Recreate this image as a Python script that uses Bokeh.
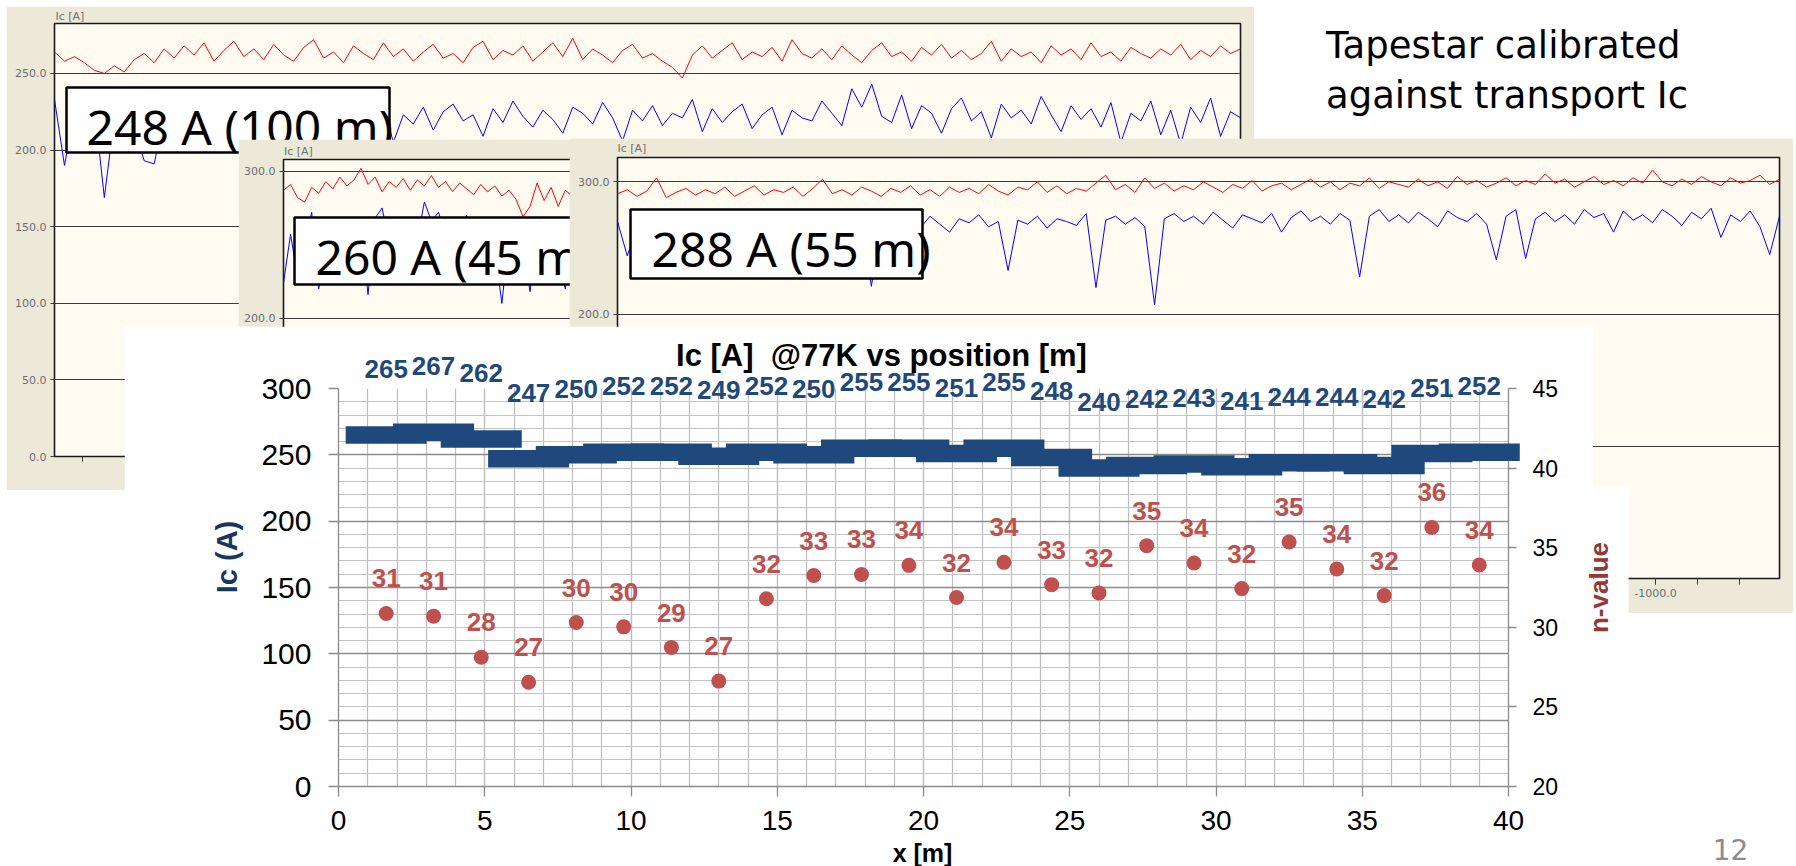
import math
from bokeh.plotting import figure
from bokeh.models import (Range1d, LinearAxis, SingleIntervalTicker, FixedTicker, LabelSet,
                          ColumnDataSource, Label, BoxAnnotation, NumeralTickFormatter)
from bokeh.embed import file_html
from bokeh.resources import INLINE
from bokeh.core.properties import value

# ---------------- main chart data ----------------
position_m = [1.63, 3.25, 4.88, 6.5, 8.13, 9.75, 11.38, 13.0, 14.63, 16.25, 17.88, 19.5,
              21.13, 22.75, 24.38, 26.0, 27.63, 29.25, 30.88, 32.5, 34.13, 35.75, 37.38, 39.0]
ic_a = [265, 267, 262, 247, 250, 252, 252, 249, 252, 250, 255, 255,
        251, 255, 248, 240, 242, 243, 241, 244, 244, 242, 251, 252]
n_value = [30.87, 30.70, 28.12, 26.55, 30.30, 30.03, 28.73, 26.62, 31.79, 33.25, 33.32, 33.89,
           31.87, 34.08, 32.68, 32.16, 35.13, 34.04, 32.43, 35.36, 33.66, 31.99, 36.27, 33.91]
n_label = [31, 31, 28, 27, 30, 30, 29, 27, 32, 33, 33, 34,
           32, 34, 33, 32, 35, 34, 32, 35, 34, 32, 36, 34]

# ---------------- background screenshot traces (Ic [A]) ----------------
red_a = [264,258,261,257,252,250,255,251,259,263, 257,266,260,268,262,270,258,265,271,261,
         266,259,269,262,258,267,272,260,264,257, 268,263,259,270,261,266,258,264,269,260,
         263,257,267,271,259,265,262,268,258,264, 270,261,273,259,266,262,257,265,269,260,
         263,258,254,247,262,268,260,265,270,259, 264,261,267,258,272,263,260,266,259,268,
         262,257,265,270,261,264,258,267,262,269, 260,265,259,263,271,258,266,261,264,257,
         268,262,266,259,270,261,264,258,267,263, 260,266,262,269,259,265,261,268,263,266]
blue_a = [233,190,224,218,229,169,221,226,215,193, 191,222,230,217,225,212,228,219,224,208,
          226,231,215,222,227,210,224,218,233,221, 214,226,220,229,205,223,217,228,213,225,
          230,219,223,209,227,218,232,222,215,226, 220,211,228,224,217,231,221,206,226,219,
          229,216,224,221,233,212,227,218,225,230, 214,223,228,210,226,221,219,232,224,216,
          240,228,243,222,218,236,214,229,224,211, 227,234,219,225,208,230,221,226,217,235,
          223,212,229,220,227,215,231,205,224,219, 232,210,226,204,228,218,234,209,225,221]
red_b = [287,291,282,279,289,285,293,288,296,290, 294,302,291,296,286,293,289,295,287,294,
         290,297,289,293,286,292,288,284,291,286, 290,283,287,281,269,276,292,280,289,276,
         287,283,291,286,290,285]
blue_b = [224,257,228,250,272,220,255,266,249,258, 244,262,216,268,275,251,259,246,263,254,
          279,266,272,258,249,261,270,252,264,268, 247,210,256,262,249,218,258,245,263,240,
          220,255,261,248,257,252]
red_c = [291,294,289,293,303,288,292,295,290,294, 291,296,289,293,297,290,294,292,296,289,
         295,302,291,294,290,296,293,289,295,292, 297,290,294,289,296,292,295,291,298,293,
         290,296,294,300,292,297,291,295,293,299, 305,294,298,292,303,295,299,293,297,294,
         300,296,292,298,295,301,293,297,299,294, 298,302,296,300,294,299,297,303,295,300,
         298,296,302,297,300,295,304,298,301,296, 299,303,297,301,298,306,299,302,296,300,
         304,298,301,297,303,299,309,300,297,302, 298,304,300,297,303,299,301,305,298,302]
blue_c = [270,244,266,272,268,275,263,270,266,273, 269,264,271,267,274,262,269,272,265,270,
          268,273,266,271,264,269,221,270,273,267, 271,265,274,268,262,272,269,275,266,270,
          233,271,268,274,265,272,270,267,276,220, 271,274,268,273,266,207,272,276,270,274,
          268,277,271,265,275,272,269,276,262,273, 278,270,274,268,276,271,228,274,279,270,
          275,269,277,272,266,278,273,270,276,268, 241,274,279,242,272,277,270,275,268,279,
          273,276,262,278,271,275,269,279,274,267, 277,272,280,258,275,270,278,266,245,274]
panel_a_ticks = [0, 50, 100, 150, 200, 250]
panel_b_ticks = [200, 300]
panel_c_ticks = [0, 100, 200, 300]

# ---------------- styles ----------------
BEIGE = "#ECE9D8"
CREAM = "#FFFBF0"
BLUE = "#1F497D"
RED = "#C0504D"
NRED = "#953735"
W, H = 1796, 866
BOX_FONT_SHIFT = 18.6   # baseline -> middle for 48px Noto Sans


def lin(v, a0, a1, b0, b1):
    return b0 + (v - a0) * (b1 - b0) / (a1 - a0)


def make_panel(c, f, x_range, y_range, yticks):
    cx0, cy0, cx1, cy1 = c
    fx0, fy0, fx1, fy1 = f
    p = figure(width=cx1 - cx0, height=cy1 - cy0, x_range=x_range, y_range=y_range,
               output_backend="svg", toolbar_location=None,
               min_border_left=fx0 - cx0, min_border_right=cx1 - fx1,
               min_border_top=fy0 - cy0, min_border_bottom=cy1 - fy1)
    p.background_fill_color = CREAM
    p.border_fill_color = BEIGE
    p.outline_line_color = "#1A1A1A"
    p.outline_line_width = 1.6
    p.xgrid.visible = False
    p.ygrid.grid_line_color = "#3A3A3A"
    p.ygrid.grid_line_width = 1.2
    ya = p.yaxis[0]
    ya.ticker = FixedTicker(ticks=yticks)
    ya.formatter = NumeralTickFormatter(format="0.0")
    ya.axis_line_color = None
    ya.major_tick_line_color = "#3A3A3A"
    ya.major_tick_out = 4
    ya.major_tick_in = 0
    ya.minor_tick_line_color = None
    ya.major_label_text_font = "DejaVu Sans"
    ya.major_label_text_font_size = "11px"
    ya.major_label_text_color = "#6E6E6E"
    ya.major_label_standoff = 4
    return p


def text_box(p, box, text_xy, text, fxr, fyr, xname="default"):
    (bx0, by0, bx1, by1) = box
    p.add_layout(BoxAnnotation(left=fxr(bx0), right=fxr(bx1), top=fyr(by0), bottom=fyr(by1),
                               fill_color="white", fill_alpha=1.0, line_color="black",
                               line_alpha=1.0, line_width=2.5, x_range_name=xname))
    p.add_layout(Label(x=fxr(text_xy[0]), y=fyr(text_xy[1] - BOX_FONT_SHIFT), text=text,
                       x_range_name=xname, text_font="Noto Sans", text_font_size="48px",
                       text_color="black", text_align="left", text_baseline="middle"))


# ---------------- panel A (back window) ----------------
A_c = (6, 6, 1254, 490)
A_f = (54, 23, 1240, 456)
A_ytop = 282.6
pA = make_panel(A_c, A_f, Range1d(0, len(red_a) - 1), Range1d(0, A_ytop), panel_a_ticks)
pA.xaxis.axis_line_color = None
pA.xaxis.ticker = FixedTicker(ticks=[2.81])
pA.xaxis.major_tick_out = 5
pA.xaxis.major_tick_in = 0
pA.xaxis.major_tick_line_color = "#3A3A3A"
pA.xaxis.major_label_text_color = None
pA.xaxis.minor_tick_line_color = None
pA.line(list(range(len(red_a))), red_a, line_color="#FF0000", line_width=1)
pA.line(list(range(len(blue_a))), blue_a, line_color="#0000FF", line_width=1)
fxa = lambda px: lin(px, A_f[0], A_f[2], 0, len(red_a) - 1)
fya = lambda py: lin(py, A_f[3], A_f[1], 0, A_ytop)
text_box(pA, (66, 87, 389, 152), (86, 145), "248 A (100 m)", fxa, fya)

# ---------------- panel B (middle window) ----------------
B_c = (238, 139, 600, 340)
B_f = (283, 159, 600, 335)
B_y0, B_y1 = 188.2, 307.96
pB = make_panel(B_c, B_f, Range1d(0, len(red_b) - 1), Range1d(B_y0, B_y1), panel_b_ticks)
pB.xaxis.visible = False
pB.line(list(range(len(red_b))), red_b, line_color="#FF0000", line_width=1)
pB.line(list(range(len(blue_b))), blue_b, line_color="#0000FF", line_width=1)
fxb = lambda px: lin(px, B_f[0], B_f[2], 0, len(red_b) - 1)
fyb = lambda py: lin(py, B_f[3], B_f[1], B_y0, B_y1)
text_box(pB, (294, 217, 598, 284), (315, 275), "260 A (45 m)", fxb, fyb)

# ---------------- panel C (right window) ----------------
C_c = (569, 138, 1793, 613)
C_f = (617, 157, 1779, 578)
C_ytop = 318.4
pC = make_panel(C_c, C_f, Range1d(-9238.5, -16.3), Range1d(0, C_ytop), panel_c_ticks)
pC.extra_x_ranges = {"idx": Range1d(0, len(red_c) - 1)}
cx = pC.xaxis[0]
cx.ticker = SingleIntervalTicker(interval=1000, num_minor_ticks=3)
cx.formatter = NumeralTickFormatter(format="0.0")
cx.axis_line_color = None
cx.major_tick_line_color = "#3A3A3A"
cx.minor_tick_line_color = "#3A3A3A"
cx.major_tick_out = 6
cx.minor_tick_out = 6
cx.major_tick_in = 0
cx.minor_tick_in = 0
cx.major_label_text_font = "DejaVu Sans"
cx.major_label_text_font_size = "11px"
cx.major_label_text_color = "#6E6E6E"
cx.major_label_standoff = 4
pC.line(list(range(len(red_c))), red_c, x_range_name="idx", line_color="#FF0000", line_width=1)
pC.line(list(range(len(blue_c))), blue_c, x_range_name="idx", line_color="#0000FF", line_width=1)
fxc = lambda px: lin(px, C_f[0], C_f[2], 0, len(red_c) - 1)
fyc = lambda py: lin(py, C_f[3], C_f[1], 0, C_ytop)
text_box(pC, (630, 209, 922, 278), (651, 267), "288 A (55 m)", fxc, fyc, xname="idx")

# ---------------- main chart: axes and grid ----------------
M_c = (124, 326, 1593, 866)
M_f = (338, 388, 1508, 786)
X_MAX, Y_MAX, N_MIN, N_MAX = 40, 300, 20, 45
pM = figure(width=M_c[2] - M_c[0], height=M_c[3] - M_c[1],
            x_range=Range1d(0, X_MAX), y_range=Range1d(0, Y_MAX),
            output_backend="svg", toolbar_location=None,
            min_border_left=M_f[0] - M_c[0], min_border_right=M_c[2] - M_f[2],
            min_border_top=M_f[1] - M_c[1], min_border_bottom=M_c[3] - M_f[3])
pM.extra_y_ranges = {"n": Range1d(N_MIN, N_MAX)}
pM.background_fill_color = "white"
pM.border_fill_color = "white"
pM.outline_line_color = None

xa = pM.xaxis[0]
xa.ticker = SingleIntervalTicker(interval=5, num_minor_ticks=5)
ya = pM.yaxis[0]
ya.ticker = SingleIntervalTicker(interval=50, num_minor_ticks=5)
ra = LinearAxis(y_range_name="n", ticker=SingleIntervalTicker(interval=5, num_minor_ticks=0))
pM.add_layout(ra, "right")
for ax in (xa, ya, ra):
    ax.axis_line_color = "#8C8C8C"
    ax.axis_line_width = 1.3
    ax.major_tick_line_color = "#8C8C8C"
    ax.major_tick_line_width = 1.3
    ax.major_tick_in = 0
    ax.minor_tick_line_color = None
    ax.major_label_text_font = "Liberation Sans"
    ax.major_label_text_color = "black"
xa.major_tick_out = 10
xa.major_label_text_font_size = "28px"
xa.major_label_standoff = 14
ya.major_tick_out = 10
ya.major_label_text_font_size = "30px"
ya.major_label_standoff = 17
ra.major_tick_out = 8
ra.major_label_text_font_size = "23px"
ra.major_label_standoff = 16

pM.xgrid.grid_line_color = "#BDBDBD"
pM.xgrid.grid_line_width = 1.2
pM.xgrid.minor_grid_line_color = "#BDBDBD"
pM.xgrid.minor_grid_line_width = 1.2
pM.ygrid.grid_line_color = "#8C8C8C"
pM.ygrid.grid_line_width = 1.5
pM.ygrid.minor_grid_line_color = "#C4C4C4"
pM.ygrid.minor_grid_line_width = 1.2

# ---------------- main chart: data layer (same scales, larger frame so nothing is clipped) ----
L_f = (338, 330, 1530, 786)
lx_max = X_MAX * (L_f[2] - L_f[0]) / (M_f[2] - M_f[0])
ly_max = Y_MAX * (L_f[3] - L_f[1]) / (M_f[3] - M_f[1])
ln_max = N_MIN + (N_MAX - N_MIN) * ly_max / Y_MAX
pL = figure(width=M_c[2] - M_c[0], height=M_c[3] - M_c[1],
            x_range=Range1d(0, lx_max), y_range=Range1d(0, ly_max),
            output_backend="svg", toolbar_location=None,
            x_axis_location=None, y_axis_location=None,
            min_border_left=L_f[0] - M_c[0], min_border_right=M_c[2] - L_f[2],
            min_border_top=L_f[1] - M_c[1], min_border_bottom=M_c[3] - L_f[3])
pL.extra_y_ranges = {"n": Range1d(N_MIN, ln_max)}
pL.grid.visible = False
pL.outline_line_color = None
pL.background_fill_alpha = 0
pL.border_fill_alpha = 0

src = ColumnDataSource(dict(x=position_m, ic=ic_a, ic_txt=[str(v) for v in ic_a],
                            n=n_value, n_txt=[str(v) for v in n_label]))
pL.rect(x="x", y="ic", width=2.77, height=17.5, height_units="screen", source=src,
        fill_color=BLUE, line_color=None)
pL.scatter(x="x", y="n", source=src, y_range_name="n", size=15, marker="circle",
           fill_color=RED, line_color=None)
pL.add_layout(LabelSet(x="x", y="ic", text="ic_txt", source=src, y_offset=66,
                       text_align="center", text_baseline="middle",
                       text_font=value("Liberation Sans"), text_font_style="bold",
                       text_font_size="26px", text_color=BLUE))
pL.add_layout(LabelSet(x="x", y="n", text="n_txt", source=src, y_range_name="n", y_offset=35,
                       text_align="center", text_baseline="middle",
                       text_font=value("Liberation Sans"), text_font_style="bold",
                       text_font_size="26px", text_color=RED))

# ---------------- overlay (titles, axis titles, slide text) ----------------
pT = figure(width=W, height=H, x_range=Range1d(0, W), y_range=Range1d(H, 0),
            output_backend="svg", toolbar_location=None,
            x_axis_location=None, y_axis_location=None, min_border=0)
pT.grid.visible = False
pT.outline_line_color = None
pT.background_fill_alpha = 0
pT.border_fill_alpha = 0

# white box behind the right axis title
pT.add_layout(BoxAnnotation(left=1593, right=1628, top=487, bottom=866, fill_color="white",
                            fill_alpha=1.0, line_color=None))


def lab(pos, text, **kw):
    pT.add_layout(Label(x=pos[0], y=pos[1], text=text, **kw))


lab((881, 355), "Ic [A] \u00a0@77K vs position [m]", text_font="Liberation Sans",
    text_font_style="bold", text_font_size="31px", text_color="black",
    text_align="center", text_baseline="middle")
lab((226.5, 556.5), "Ic (A)", angle=math.pi / 2, text_font="Liberation Sans",
    text_font_style="bold", text_font_size="29px", text_color="#17375E",
    text_align="center", text_baseline="middle")
lab((922, 852), "x [m]", text_font="Liberation Sans", text_font_style="bold",
    text_font_size="25px", text_color="black", text_align="center", text_baseline="middle")
lab((1598, 587), "n-value", angle=math.pi / 2, text_font="Liberation Sans",
    text_font_style="bold", text_font_size="26px", text_color=NRED,
    text_align="center", text_baseline="middle")
lab((1325.5, 44.5), "Tapestar calibrated", text_font="DejaVu Sans", text_font_size="37px",
    text_color="black", text_align="left", text_baseline="middle")
lab((1325.5, 94.5), "against transport Ic", text_font="DejaVu Sans", text_font_size="37px",
    text_color="black", text_align="left", text_baseline="middle")
lab((1730, 849), "12", text_font="DejaVu Sans", text_font_size="28px", text_color="#8C8C8C",
    text_align="center", text_baseline="middle")
for pos in [(55, 15.5), (283.5, 150.5), (617, 148)]:
    lab(pos, "Ic [A]", text_font="DejaVu Sans", text_font_size="11px", text_color="#707070",
        text_align="left", text_baseline="middle")

# ---------------- stacking: separate roots, placed with (negative) margins ----------------
items = [(pA, A_c), (pB, B_c), (pC, C_c), (pM, M_c), (pL, M_c), (pT, (0, 0, W, H))]
prev_bottom = 0
for fig, c in items:
    fig.margin = (c[1] - prev_bottom, 0, 0, c[0])
    prev_bottom = c[3]

open("out.html", "w").write(file_html([it[0] for it in items], INLINE, title="Ic vs position"))
